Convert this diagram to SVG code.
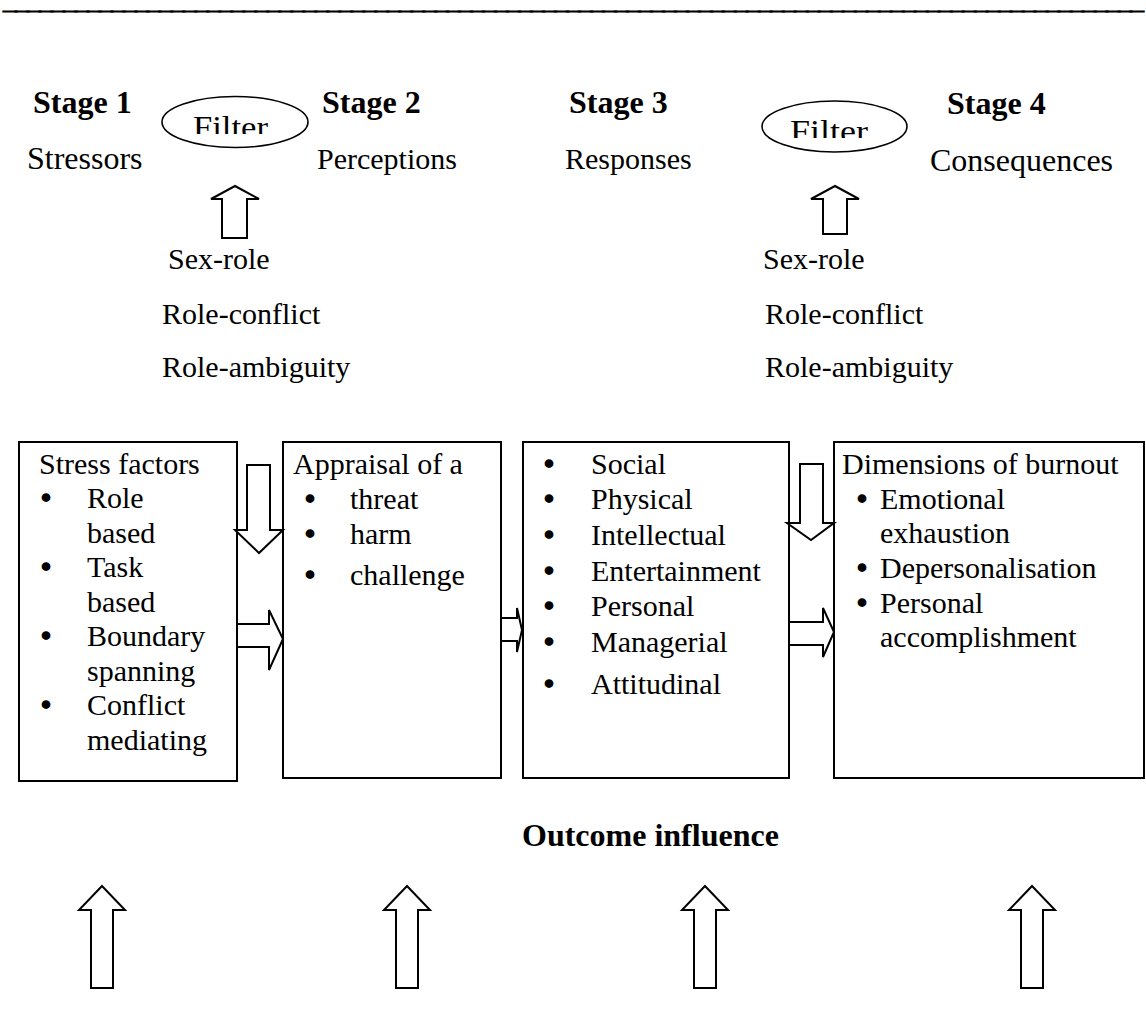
<svg xmlns="http://www.w3.org/2000/svg" width="1146" height="1021" viewBox="0 0 1146 1021">
<style>
.t{font-family:"Liberation Serif","Times New Roman",serif;font-size:30px;fill:#000}
.b{font-weight:bold;font-size:32px}
.l{font-size:32px}
.bl{font-family:"Liberation Serif","Times New Roman",serif;font-size:30px;fill:#000;stroke:#000;stroke-width:1.6;text-anchor:middle}
.rule{font-family:"Liberation Serif","Times New Roman",serif;font-size:10px;fill:#000;stroke:#000;stroke-width:1.3}
.box{fill:#fff;stroke:#000;stroke-width:2}
.arr{fill:#fff;stroke:#000;stroke-width:2;stroke-linejoin:miter}
.ell{fill:#fff;stroke:#000;stroke-width:1.6}
</style>
<defs>
<clipPath id="c1"><rect x="150" y="90" width="180" height="44"/></clipPath>
<clipPath id="c2"><rect x="750" y="90" width="180" height="48"/></clipPath>
</defs>
<rect width="1146" height="1021" fill="#fff"/>
<text class="rule" x="4" y="9.5" textLength="1139" lengthAdjust="spacingAndGlyphs">_______________________________________________________________________________________________</text>

<g id="stage1"><text class="t b" x="33" y="113">Stage 1</text><text class="t l" x="27" y="169">Stressors</text></g>
<g id="stage2"><text class="t b" x="322" y="113">Stage 2</text><text class="t" x="317" y="169">Perceptions</text></g>
<g id="stage3"><text class="t b" x="569" y="113">Stage 3</text><text class="t" x="565" y="169">Responses</text></g>
<g id="stage4"><text class="t b" x="947" y="114">Stage 4</text><text class="t l" x="930" y="171">Consequences</text></g>

<g id="filter1"><ellipse class="ell" cx="235" cy="122" rx="73" ry="25.5"/><text class="t" x="193" y="138" style="font-size:32px" textLength="75" lengthAdjust="spacingAndGlyphs" clip-path="url(#c1)">Filter</text></g>
<g id="filter2"><ellipse class="ell" cx="834.5" cy="126.5" rx="72.5" ry="25.5"/><text class="t" x="790" y="142" style="font-size:32px" textLength="78" lengthAdjust="spacingAndGlyphs" clip-path="url(#c2)">Filter</text></g>

<g id="roles1"><text class="t" x="168" y="269">Sex-role</text><text class="t" x="162" y="324">Role-conflict</text><text class="t" x="162" y="377">Role-ambiguity</text></g>
<g id="roles2"><text class="t" x="763" y="269">Sex-role</text><text class="t" x="765" y="324">Role-conflict</text><text class="t" x="765" y="377">Role-ambiguity</text></g>

<g id="box1"><rect class="box" x="19" y="442" width="218" height="339"/>
<text class="t" x="39" y="474">Stress factors</text>
<text class="bl" x="46" y="508">•</text><text class="t" x="87" y="508">Role</text>
<text class="t" x="87" y="543">based</text>
<text class="bl" x="46" y="577">•</text><text class="t" x="87" y="577">Task</text>
<text class="t" x="87" y="612">based</text>
<text class="bl" x="46" y="646">•</text><text class="t" x="87" y="646">Boundary</text>
<text class="t" x="87" y="681">spanning</text>
<text class="bl" x="46" y="715">•</text><text class="t" x="87" y="715">Conflict</text>
<text class="t" x="87" y="750">mediating</text>
</g>

<g id="box2"><rect class="box" x="283" y="442" width="218" height="336"/>
<text class="t" x="293" y="474">Appraisal of a</text>
<text class="bl" x="310" y="509">•</text><text class="t" x="350" y="509">threat</text>
<text class="bl" x="310" y="544">•</text><text class="t" x="350" y="544">harm</text>
<text class="bl" x="310" y="585">•</text><text class="t" x="350" y="585">challenge</text>
</g>

<g id="box3"><rect class="box" x="523" y="442" width="266" height="336"/>
<text class="bl" x="549" y="474">•</text><text class="t" x="591" y="474">Social</text>
<text class="bl" x="549" y="509">•</text><text class="t" x="591" y="509">Physical</text>
<text class="bl" x="549" y="545">•</text><text class="t" x="591" y="545">Intellectual</text>
<text class="bl" x="549" y="581">•</text><text class="t" x="591" y="581">Entertainment</text>
<text class="bl" x="549" y="616">•</text><text class="t" x="591" y="616">Personal</text>
<text class="bl" x="549" y="652">•</text><text class="t" x="591" y="652">Managerial</text>
<text class="bl" x="549" y="694">•</text><text class="t" x="591" y="694">Attitudinal</text>
</g>

<g id="box4"><rect class="box" x="834" y="442" width="310" height="336"/>
<text class="t" x="842" y="474">Dimensions of burnout</text>
<text class="bl" x="862" y="509">•</text><text class="t" x="880" y="509">Emotional</text>
<text class="t" x="880" y="543">exhaustion</text>
<text class="bl" x="862" y="578">•</text><text class="t" x="880" y="578">Depersonalisation</text>
<text class="bl" x="862" y="613">•</text><text class="t" x="880" y="613">Personal</text>
<text class="t" x="880" y="647">accomplishment</text>
</g>

<g id="outcome"><text class="t b" x="522" y="846">Outcome influence</text></g>

<g id="connectors">
<polygon class="arr" points="235,186 259,199 247,199 247,238 222,238 222,199 211,199"/>
<polygon class="arr" points="835,186 859,199 847,199 847,234 823,234 823,199 811,199"/>
<polygon class="arr" points="247,465 270,465 270,530 283,530 259,553 235,530 247,530"/>
<polygon class="arr" points="237,624 269,624 269,610 283,639 269,670 269,647 237,647"/>
<polygon class="arr" points="501,618 517,618 517,608 522,630 517,652 517,641 501,641"/>
<polygon class="arr" points="800,464 823,464 823,523 834,523 811,540 787,523 800,523"/>
<polygon class="arr" points="789,622 823,622 823,608 834,632 823,657 823,645 789,645"/>
<polygon class="arr" points="102,886 125,910 113,910 113,988 91,988 91,910 79,910"/>
<polygon class="arr" points="407,886 430,910 418,910 418,988 396,988 396,910 384,910"/>
<polygon class="arr" points="705,886 728,910 716,910 716,988 694,988 694,910 682,910"/>
<polygon class="arr" points="1032,886 1055,910 1043,910 1043,988 1021,988 1021,910 1009,910"/>
</g>
</svg>
